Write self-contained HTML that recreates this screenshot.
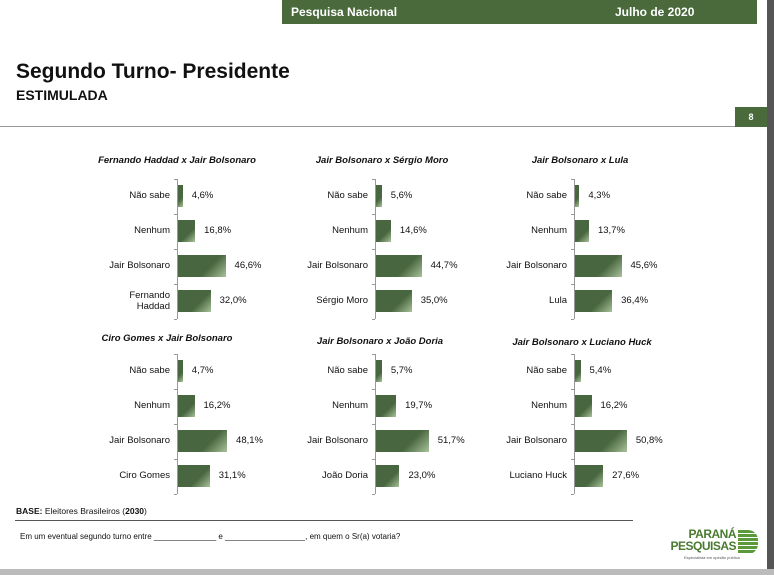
<!DOCTYPE html>
<html><head><meta charset="utf-8"><style>
body{margin:0;width:774px;height:575px;background:#fff;position:relative;overflow:hidden;font-family:"Liberation Sans",sans-serif;color:#111}
.abs{position:absolute}
.t{font-size:9.5px;font-weight:bold;font-style:italic;white-space:nowrap;transform:translateX(-50%)}
.lab{font-size:9.5px;text-align:right;width:110px;line-height:11px}
.val{font-size:9.5px;white-space:nowrap}
.bar{background:linear-gradient(135deg,#48663f 0%,#48663f 62%,#a9c29a 100%)}
</style></head><body>
<div class="abs" style="left:282px;top:0;width:475px;height:24px;background:#4a6a3c;color:#fff;font-weight:bold;font-size:12px">
<span class="abs" style="left:9px;top:5px">Pesquisa Nacional</span><span class="abs" style="left:333px;top:5px">Julho de 2020</span></div>
<div class="abs" style="left:767px;top:0;width:7px;height:575px;background:#555"></div>
<div class="abs" style="left:0;top:569px;width:774px;height:6px;background:#bbb"></div>
<div class="abs" style="left:16px;top:60px;font-size:21px;font-weight:bold">Segundo Turno- Presidente</div>
<div class="abs" style="left:16px;top:87px;font-size:14px;font-weight:bold">ESTIMULADA</div>
<div class="abs" style="left:0;top:126px;width:740px;height:1px;background:#999"></div>
<div class="abs" style="left:735px;top:107px;width:32px;height:20px;background:#4a6a3c;color:#fff;font-size:9px;font-weight:bold;text-align:center;line-height:20px">8</div>
<div id="charts"></div>
<div class="abs" style="left:16px;top:506px;font-size:8.5px"><b>BASE:</b> Eleitores Brasileiros (<b>2030</b>)</div>
<div class="abs" style="left:15px;top:520px;width:618px;height:1px;background:#555"></div>
<div class="abs" style="left:20px;top:532px;font-size:8px">Em um eventual segundo turno entre ______________ e __________________, em quem o Sr(a) votaria?</div>
<div class="abs" style="left:666px;top:528px;width:96px;height:36px">
<div class="abs" style="left:0;top:0;font-size:12px;font-weight:bold;color:#4a7a30;line-height:12px;text-align:right;width:70px;letter-spacing:-0.5px">PARANÁ<br>PESQUISAS</div>
<div class="abs" style="left:72px;top:2px;width:20px;height:24px;background:repeating-linear-gradient(#5a9a3a 0 3px,#fff 3px 4px);border-radius:0 10px 10px 0"></div>
<div class="abs" style="left:18px;top:27px;font-size:4px;color:#555">Especialista em opinião pública</div></div>
<script>
const titles=["Fernando Haddad x Jair Bolsonaro","Jair Bolsonaro x Sérgio Moro","Jair Bolsonaro x Lula","Ciro Gomes x Jair Bolsonaro","Jair Bolsonaro x João Doria","Jair Bolsonaro x Luciano Huck"];
const categories=[["Não sabe","Nenhum","Jair Bolsonaro","Fernando<br>Haddad"],["Não sabe","Nenhum","Jair Bolsonaro","Sérgio Moro"],["Não sabe","Nenhum","Jair Bolsonaro","Lula"],["Não sabe","Nenhum","Jair Bolsonaro","Ciro Gomes"],["Não sabe","Nenhum","Jair Bolsonaro","João Doria"],["Não sabe","Nenhum","Jair Bolsonaro","Luciano Huck"]];
const values=[[4.6,16.8,46.6,32.0],[5.6,14.6,44.7,35.0],[4.3,13.7,45.6,36.4],[4.7,16.2,48.1,31.1],[5.7,19.7,51.7,23.0],[5.4,16.2,50.8,27.6]];
const axX=[178,376,575,178,376,575],rowY=[196,196,196,371,371,371],titleX=[177,382,580,167,380,582],titleY=[155,155,155,333,336,337];
const sx=v=>v*1.02, rowC=(py,i)=>py+i*35;
const root=document.getElementById('charts');
function mk(cls,st,html){const d=document.createElement('div');d.className='abs '+cls;d.style.cssText=st;if(html!==undefined)d.innerHTML=html;root.appendChild(d);return d;}
titles.forEach((t,p)=>{
 const ti=mk('t',`left:${titleX[p]}px;top:${titleY[p]}px`,t);
 
 
 const ax=mk('',`left:${axX[p]-1}px;top:${rowY[p]-17}px;width:1px;height:140px;background:#999`);
 
 
 values[p].forEach((v,i)=>{
  const cy=rowC(rowY[p],i),w=sx(v);
  const tk=mk('',`left:${axX[p]-4}px;top:${cy-17}px;width:3px;height:1px;background:#999`);
  
  
  const lb=mk('lab',`left:${axX[p]-118}px;top:${cy-(categories[p][i].includes('<br>')?11:6)}px`,categories[p][i]);
  
  
  const b=mk('bar',`left:${axX[p]}px;top:${cy-11}px;width:${w}px;height:22px`);
  
  
  const vl=mk('val',`left:${axX[p]+w+9}px;top:${cy-6}px`,v.toFixed(1).replace('.',',')+'%');
  
  
 });
 const tk=mk('',`left:${axX[p]-4}px;top:${rowY[p]+123}px;width:3px;height:1px;background:#999`);
 
 
});
</script>
</body></html>
